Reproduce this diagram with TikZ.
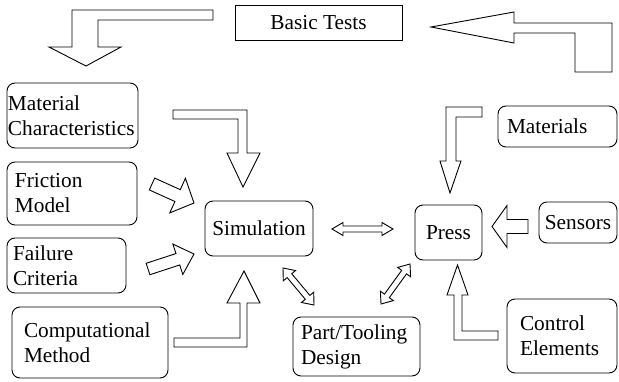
\documentclass[tikz,border=0pt]{standalone}
\usepackage{fontspec}
\setmainfont{Liberation Serif}
\usetikzlibrary{calc}

% block arrow: tail, tip, half shaft, half head, head length
\newcommand{\fatarrow}[5]{%
  \coordinate (hb) at ($(#2)!#5!(#1)$);
  \draw[fat] ($(#1)!#3!90:(#2)$) -- ($(hb)!#3!90:(#2)$) -- ($(hb)!#4!90:(#2)$)
    -- (#2) -- ($(hb)!#4!-90:(#2)$) -- ($(hb)!#3!-90:(#2)$)
    -- ($(#1)!#3!-90:(#2)$) -- cycle;
}
% block arrow with two heads
\newcommand{\dblarrow}[5]{%
  \coordinate (ha) at ($(#1)!#5!(#2)$);
  \coordinate (hb) at ($(#2)!#5!(#1)$);
  \draw[fat] (#1) -- ($(ha)!#4!90:(#2)$) -- ($(ha)!#3!90:(#2)$)
    -- ($(hb)!#3!90:(#2)$) -- ($(hb)!#4!90:(#2)$) -- (#2)
    -- ($(hb)!#4!-90:(#2)$) -- ($(hb)!#3!-90:(#2)$)
    -- ($(ha)!#3!-90:(#2)$) -- ($(ha)!#4!-90:(#2)$) -- cycle;
}

\begin{document}
\begin{tikzpicture}[
  x=1pt, y=-1pt,
  font=\fontsize{21.3}{25}\selectfont,
  box/.style={draw, line width=0.9pt, rounded corners=8pt, inner sep=0pt, align=left},
  plain/.style={draw, line width=0.9pt, inner sep=0pt},
  fat/.style={draw, fill=white, line width=0.9pt, line join=miter}
]
\useasboundingbox (0,0) rectangle (619,381);

\node[plain, minimum width=167pt, minimum height=35pt] (tests) at (318.5,22.5) {Basic Tests};
\node[box, minimum height=65pt, text width=129pt, inner xsep=1pt] (matc) at (72.5,115.5) {Material\\Characteristics};
\node[box, minimum height=63pt, text width=114pt, inner xsep=8pt] (fric) at (72,193.5) {Friction\\Model};
\node[box, minimum height=55pt, text width=107pt, inner xsep=6pt] (fail) at (66.5,265.5) {Failure\\Criteria};
\node[box, minimum height=71pt, text width=132pt, inner xsep=12pt] (comp) at (90,342.5) {Computational\\Method};
\node[box, minimum width=108pt, minimum height=55pt] (sim) at (259,228.5) {Simulation};
\node[box, minimum width=67pt, minimum height=55pt] (press) at (448.5,232.5) {Press};
\node[box, minimum height=59pt, text width=111pt, inner xsep=8pt] (part) at (356.5,346.5) {Part/Tooling\\Design};
\node[box, minimum height=41pt, text width=101pt, inner xsep=9pt] (mats) at (557.5,126.5) {Materials};
\node[box, minimum width=78pt, minimum height=41pt] (sens) at (578,222.5) {Sensors};
\node[box, minimum height=74pt, text width=84pt, inner xsep=13pt] (ctrl) at (562,336) {Control\\Elements};

% loop back through the basic tests
\draw[fat] (213,10) -- (72,10) -- (72,47) -- (49,47) -- (86,66) -- (121,47)
  -- (98,47) -- (98,20) -- (213,20) -- cycle;
\draw[fat] (431,27) -- (514,12) -- (514,23) -- (612,23) -- (612,72) -- (575,72)
  -- (575,33) -- (514,33) -- (514,43) -- cycle;

% inputs to the simulation
\draw[fat] (173,110) -- (247,110) -- (247,153) -- (260,153) -- (243,187) -- (227,153)
  -- (238,153) -- (238,119) -- (173,119) -- cycle;
\coordinate (fricT) at (152,184);
\coordinate (fricH) at (194,203);
\fatarrow{fricT}{fricH}{6.5pt}{19pt}{18pt}
\coordinate (failT) at (148,269);
\coordinate (failH) at (194,254);
\fatarrow{failT}{failH}{6pt}{16pt}{17pt}
\draw[fat] (174,338) -- (240,338) -- (240,303) -- (227,303) -- (244,271) -- (260,303)
  -- (247,303) -- (247,347) -- (174,347) -- cycle;

% inputs to the press
\draw[fat] (482,107) -- (446,107) -- (446,161) -- (440,161) -- (450,193) -- (461,161)
  -- (456,161) -- (456,117) -- (482,117) -- cycle;
\coordinate (sensT) at (528,226.5);
\coordinate (sensH) at (492,226.5);
\fatarrow{sensT}{sensH}{7pt}{21pt}{15pt}
\draw[fat] (454,295) -- (454,340) -- (498,340) -- (498,331) -- (462,331) -- (462,295)
  -- (468,295) -- (457.5,265) -- (447,295) -- cycle;

% exchanges
\coordinate (simR) at (332,229);
\coordinate (pressL) at (393,229);
\dblarrow{simR}{pressL}{3pt}{6.5pt}{11pt}
\coordinate (simB) at (283,268);
\coordinate (partL) at (314,305);
\dblarrow{simB}{partL}{3pt}{8pt}{10pt}
\coordinate (partR) at (381,304);
\coordinate (pressB) at (410,264);
\dblarrow{partR}{pressB}{3pt}{8pt}{10pt}
\end{tikzpicture}
\end{document}
